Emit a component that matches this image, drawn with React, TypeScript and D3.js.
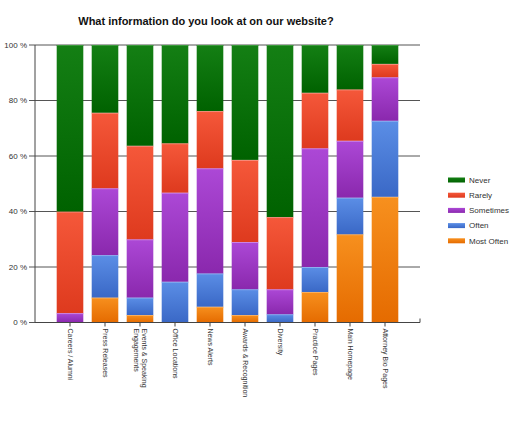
import React from 'react';
import * as d3 from 'd3';

// Survey results, percent of respondents per page
const categories = [
  'Careers / Alumni',
  'Press Releases',
  'Events & Speaking Engagements',
  'Office Locations',
  'News Alerts',
  'Awards & Recognition',
  'Diversity',
  'Practice Pages',
  'Main Homepage',
  'Attorney Bio Pages',
];
const mostOften = [0, 9, 2.7, 0, 5.7, 2.7, 0, 11, 31.8, 45.3];
const often = [0, 15.3, 6.3, 14.7, 12, 9.3, 3, 9, 13.2, 27.4];
const sometimes = [3.4, 24.1, 21, 32.1, 37.9, 17, 9, 42.8, 20.5, 15.7];
const rarely = [36.6, 27.2, 33.7, 17.8, 20.6, 29.6, 26, 20, 18.5, 4.8];
const never = [60, 24.4, 36.3, 35.4, 23.8, 41.4, 62, 17.2, 16, 6.8];
const yTicks = [0, 20, 40, 60, 80, 100];

const series = [
  { key: 'Most Often', values: mostOften, top: '#f7901e', bottom: '#e56b00', edge: '#f9b060' },
  { key: 'Often', values: often, top: '#5b8ee6', bottom: '#3a68c6', edge: '#8db0f0' },
  { key: 'Sometimes', values: sometimes, top: '#ac48d6', bottom: '#8a28ad', edge: '#cc88e8' },
  { key: 'Rarely', values: rarely, top: '#f5583a', bottom: '#de3a1e', edge: '#f89080' },
  { key: 'Never', values: never, top: '#147f14', bottom: '#006200', edge: '#3c9a3c' },
];

const W = 512;
const H = 423;
const margin = { left: 35, right: 92, top: 45, bottom: 100.5 };
const font = '"Liberation Sans", Arial, sans-serif';

export default function App() {
  const x = d3
    .scalePoint<string>()
    .domain(categories)
    .range([margin.left, W - margin.right])
    .padding(1);
  const y = d3.scaleLinear().domain([0, 100]).range([H - margin.bottom, margin.top]);
  const barW = x.step() * 0.76;

  const rows = categories.map((c, i) => {
    const r: Record<string, number | string> = { cat: c };
    series.forEach((s) => (r[s.key] = s.values[i]));
    return r;
  });
  const stacked = d3.stack<Record<string, number | string>>().keys(series.map((s) => s.key))(rows as any);

  const legendOrder = [...series].reverse();

  return (
    <svg width={W} height={H} style={{ position: 'absolute', left: 0, top: 0, background: '#fff' }}>
      <defs>
        {series.map((s, i) => (
          <linearGradient key={s.key} id={`g${i}`} x1="0" y1="0" x2="0" y2="1">
            <stop offset="0%" stopColor={s.top} />
            <stop offset="100%" stopColor={s.bottom} />
          </linearGradient>
        ))}
      </defs>

      <text x={206} y={25} textAnchor="middle" fontFamily={font} fontWeight="bold" fontSize={11} fill="#111">
        What information do you look at on our website?
      </text>

      {/* grid + y axis */}
      {yTicks.map((t) => (
        <g key={t}>
          {t > 0 && (
            <line x1={margin.left} x2={W - margin.right} y1={y(t)} y2={y(t)} stroke="#555" strokeWidth={1} />
          )}
          <line x1={margin.left - 6} x2={margin.left} y1={y(t)} y2={y(t)} stroke="#555" strokeWidth={1} />
          <text
            x={margin.left - 8}
            y={y(t)}
            dy="0.35em"
            textAnchor="end"
            fontFamily={font}
            fontSize={8}
            fill="#333"
          >
            {t} %
          </text>
        </g>
      ))}

      {/* bars */}
      {stacked.map((layer, si) => (
        <g key={layer.key}>
          {layer.map((d, i) => {
            const h = y(d[0]) - y(d[1]);
            if (h <= 0) return null;
            const bx = (x(categories[i]) as number) - barW / 2;
            return (
              <g key={i}>
                <rect x={bx} y={y(d[1])} width={barW} height={h} fill={`url(#g${si})`} />
                <line
                  x1={bx}
                  x2={bx + barW}
                  y1={y(d[1]) + 0.5}
                  y2={y(d[1]) + 0.5}
                  stroke={series[si].edge}
                  strokeWidth={1}
                />
              </g>
            );
          })}
        </g>
      ))}

      <line x1={margin.left} x2={margin.left} y1={margin.top} y2={y(0)} stroke="#444" strokeWidth={1} />
      <line x1={margin.left} x2={W - margin.right} y1={y(0)} y2={y(0)} stroke="#444" strokeWidth={1} />
      <line x1={W - margin.right} x2={W - margin.right} y1={y(0) - 4} y2={y(0)} stroke="#444" strokeWidth={1} />

      {/* x labels */}
      {categories.map((c) => {
        const cx = x(c) as number;
        const lines = c === 'Events & Speaking Engagements' ? ['Events & Speaking', 'Engagements'] : [c];
        return (
          <g key={c}>
            <line x1={cx} x2={cx} y1={y(0)} y2={y(0) + 4} stroke="#444" strokeWidth={1} />
            <text
              transform={`translate(${cx},${y(0) + 6}) rotate(90)`}
              fontFamily={font}
              fontSize={7}
              fill="#333"
            >
              {lines.map((l, k) => (
                <tspan key={k} x={0} y={(k - (lines.length - 1) / 2) * 8} dy="0.35em">
                  {l}
                </tspan>
              ))}
            </text>
          </g>
        );
      })}

      {/* legend */}
      {legendOrder.map((s, i) => {
        const idx = series.indexOf(s);
        const ly = 180 + i * 15.2;
        return (
          <g key={s.key}>
            <rect x={448} y={ly - 2.5} width={17} height={5} fill={`url(#g${idx})`} />
            <text x={469} y={ly} dy="0.35em" fontFamily={font} fontSize={8} fill="#333">
              {s.key}
            </text>
          </g>
        );
      })}
    </svg>
  );
}
